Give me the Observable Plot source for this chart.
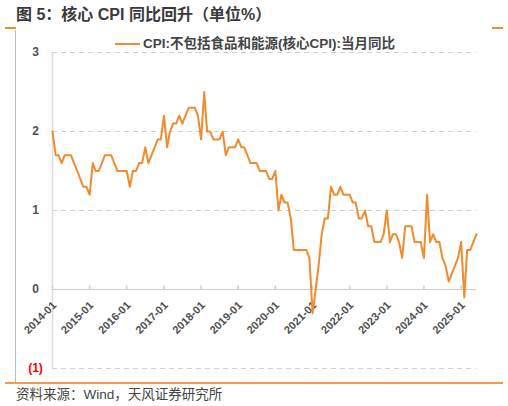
<!DOCTYPE html>
<html>
<head>
<meta charset="utf-8">
<script src="https://cdn.jsdelivr.net/npm/d3@7"></script>
<script src="https://cdn.jsdelivr.net/npm/@observablehq/plot@0.6"></script>
<style>
  body { margin: 0; width: 508px; height: 406px; position: relative; overflow: hidden; background: #fff;
         font-family: "Liberation Sans", Arial, "Noto Sans CJK SC", sans-serif; }
  #title { position: absolute; left: 16px; top: 5px; font-size: 16px; line-height: 20px; font-weight: bold; color: #3a3a3a; }
  #chart { position: absolute; left: 0; top: 30px; }
  #frame-left { position: absolute; left: 15px; top: 30px; height: 353px; border-left: 1px solid #bbb; }
  .corner { position: absolute; top: 27px; width: 11px; height: 2px; background: #f08a2c; }
  #bottom-line { position: absolute; left: 5px; top: 382px; width: 498px; height: 2px; background: #f59a4c; }
  #source { position: absolute; left: 16px; top: 387px; font-size: 13.5px; line-height: 16px; color: #444; }
  #legend { position: absolute; left: 115px; top: 36px; display: flex; align-items: center;
            font-size: 13.5px; line-height: 16px; font-weight: bold; color: #444; }
  #legend .swatch { width: 25px; height: 2px; background: #f28a2e; margin-right: 3px; }
</style>
</head>
<body>
<div id="title">图 5：核心 CPI 同比回升（单位%）</div>
<div class="corner" style="left:5px"></div>
<div class="corner" style="left:492px"></div>
<div id="frame-left"></div>
<div id="chart"></div>
<div id="legend"><span class="swatch"></span><span>CPI:不包括食品和能源(核心CPI):当月同比</span></div>
<div id="bottom-line"></div>
<div id="source">资料来源：Wind，天风证券研究所</div>
<script>
// 核心CPI当月同比，2014-01 起逐月
const startMonth = "2014-01";
const coreCpi = [
  2.0, 1.7, 1.7, 1.6, 1.7, 1.7, 1.7, 1.6, 1.5, 1.4, 1.3, 1.3, // 2014
  1.2, 1.6, 1.5, 1.5, 1.6, 1.7, 1.7, 1.7, 1.6, 1.5, 1.5, 1.5, // 2015
  1.5, 1.3, 1.5, 1.5, 1.6, 1.6, 1.8, 1.6, 1.7, 1.8, 1.9, 1.9, // 2016
  2.2, 1.8, 2.0, 2.1, 2.1, 2.2, 2.1, 2.2, 2.3, 2.3, 2.3, 2.2, // 2017
  1.9, 2.5, 2.0, 2.0, 1.9, 1.9, 1.9, 2.0, 1.7, 1.8, 1.8, 1.8, // 2018
  1.9, 1.8, 1.8, 1.7, 1.6, 1.6, 1.6, 1.5, 1.5, 1.5, 1.4, 1.4, // 2019
  1.5, 1.0, 1.2, 1.1, 1.1, 0.9, 0.5, 0.5, 0.5, 0.5, 0.5, 0.4, // 2020
  -0.3, 0.0, 0.3, 0.7, 0.9, 0.9, 1.3, 1.2, 1.2, 1.3, 1.2, 1.2, // 2021
  1.2, 1.1, 1.1, 0.9, 0.9, 1.0, 0.8, 0.8, 0.6, 0.6, 0.6, 0.7, // 2022
  1.0, 0.6, 0.7, 0.7, 0.6, 0.4, 0.8, 0.8, 0.8, 0.6, 0.6, 0.6, // 2023
  0.4, 1.2, 0.6, 0.7, 0.6, 0.6, 0.4, 0.3, 0.1, 0.2, 0.3, 0.4, // 2024
  0.6, -0.1, 0.5, 0.5, 0.6, 0.7                               // 2025
];
const xTickLabels = ["2014-01", "2015-01", "2016-01", "2017-01", "2018-01", "2019-01",
                     "2020-01", "2021-01", "2022-01", "2023-01", "2024-01", "2025-01"];
const yTicks = [3, 2, 1, 0, -1];
const yGrid = [3, 2, 1, -1];

const parseMonth = d3.utcParse("%Y-%m");
const formatMonth = d3.utcFormat("%Y-%m");
const start = parseMonth(startMonth);
const series = coreCpi.map((value, i) => ({date: d3.utcMonth.offset(start, i), value}));
const xTicks = xTickLabels.map(parseMonth);

// short tick pointing up from the zero line
const tickUp = {draw(context) { context.moveTo(0, 0); context.lineTo(0, -4); }};

const chart = Plot.plot({
  width: 508,
  height: 353,
  marginLeft: 52,
  marginRight: 32,
  marginTop: 22,
  marginBottom: 15,
  x: {type: "utc", domain: [series[0].date, series[series.length - 1].date], axis: null},
  y: {domain: [-1, 3], axis: null},
  style: {
    fontFamily: '"Liberation Sans", Arial, "Noto Sans CJK SC", sans-serif',
    fontSize: "11px",
    fontWeight: "bold",
    background: "transparent",
    overflow: "visible"
  },
  marks: [
    Plot.ruleY(yGrid, {stroke: "#cfcfcf", strokeDasharray: "5,4"}),
    Plot.ruleX([series[0].date], {stroke: "#dcdcdc", strokeWidth: 1.5}),
    Plot.ruleY([0], {stroke: "#cfcfcf"}),
    Plot.dot(xTicks, {x: d => d, y: 0, symbol: tickUp, stroke: "#cfcfcf", fill: "none"}),
    Plot.text(xTicks, {
      x: d => d, y: 0, text: d => formatMonth(d),
      rotate: -45, textAnchor: "end", dx: 2, dy: 14, fill: "#505050"
    }),
    Plot.text(yTicks, {
      y: d => d, frameAnchor: "left", dx: -17, textAnchor: "middle",
      text: d => d < 0 ? `(${-d})` : `${d}`,
      fill: d => d < 0 ? "#ff0000" : "#505050",
      fontSize: 12
    }),
    Plot.lineY(series, {x: "date", y: "value", stroke: "#f28a2e", strokeWidth: 2})
  ]
});
d3.select("#chart").append(() => chart);
</script>
</body>
</html>
